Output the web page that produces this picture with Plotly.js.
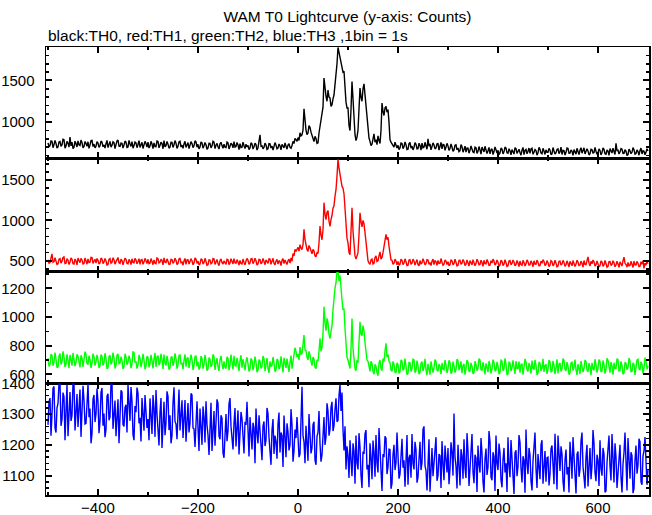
<!DOCTYPE html>
<html>
<head>
<meta charset="utf-8">
<script src="https://cdn.plot.ly/plotly-3.0.1.min.js"></script>
<style>html,body{margin:0;padding:0;background:#fff;}#chart{width:652px;height:515px;}</style>
</head>
<body>
<div id="chart"></div>
<script>
// Time axis: first sample time and sampling step (seconds); one row = 100 s
const T_START = -500;
const BIN_STEP = 2;

// TH0 (black) counts
const th0 = [
752,705,718,776,771,694,731,782,745,690,702,763,768,709,727,795,790,688,715,770,748,701,820,716,761,684,699,772,742,703,775,728,720,786,756,692,708,769,744,711,765,686,724,779,781,707,737,691,712,766,
749,698,716,774,762,705,728,689,741,781,695,752,770,700,722,765,754,683,731,776,786,712,710,748,745,690,727,773,760,696,703,781,739,709,768,688,719,762,751,694,732,778,697,741,758,685,726,770,744,702,
761,690,713,771,738,684,752,708,706,775,769,693,724,760,745,681,779,704,718,768,736,688,701,758,757,697,729,779,748,685,710,763,772,702,725,687,739,771,698,744,755,683,731,766,743,695,716,777,764,700,
734,680,702,763,751,688,718,756,729,674,690,748,746,691,713,770,760,683,724,745,705,678,741,759,719,686,737,699,695,762,752,679,711,748,733,692,766,701,708,757,727,672,742,695,699,761,718,684,735,703,
722,670,689,752,741,678,705,747,731,666,694,760,848,712,716,681,700,749,727,673,683,742,739,690,712,664,697,755,725,680,688,738,718,669,735,700,691,751,709,676,726,742,699,688,721,770,744,805,790,770,
815,780,872,835,848,905,1160,980,905,850,870,960,935,880,842,790,768,830,805,745,752,870,948,1000,1050,1180,1528,1380,1310,1250,1385,1300,1290,1190,1210,1280,1325,1450,1560,1700,1896,1830,1790,1700,1650,1600,1610,1400,1240,1170,
1170,960,900,1150,1488,1280,1010,850,780,820,905,1180,1408,1300,1250,1400,1460,1330,1190,1000,900,810,770,720,735,790,860,760,790,730,835,780,745,900,1228,1130,1080,1170,1190,1120,1150,1000,790,760,740,720,700,760,735,690,
722,670,690,751,745,683,706,762,731,672,675,744,758,689,712,667,699,755,736,680,683,748,720,664,749,693,701,759,714,676,800,711,739,668,707,752,726,679,692,741,744,665,710,757,681,733,729,662,703,746,
716,661,684,738,702,650,667,724,729,669,690,647,658,731,705,640,673,712,641,690,688,628,662,716,679,642,635,700,693,626,650,708,668,618,701,659,644,711,675,623,657,697,620,671,681,612,648,703,669,630,
662,612,631,689,678,620,645,702,690,633,627,681,656,609,671,640,618,694,683,625,649,676,637,604,665,697,610,662,673,621,652,690,626,680,688,615,641,672,659,605,633,699,674,628,620,686,655,613,668,640,
640,685,667,610,621,696,655,618,634,672,679,624,645,700,612,663,660,606,638,690,684,627,629,668,651,603,671,640,617,687,646,611,663,694,628,652,692,619,641,681,655,607,622,675,669,630,637,698,650,614,
628,679,661,607,637,690,674,621,615,666,652,603,683,640,630,688,648,612,745,660,665,618,641,684,676,625,627,670,654,600,611,677,658,622,639,695,670,616,624,668,647,604,662,689,619,657,651,610,638,681,
655];

// TH1 (red) counts
const th1 = [
512,470,478,531,585,480,489,537,503,455,462,520,526,471,495,540,548,466,470,527,507,452,485,534,519,463,458,522,497,449,533,488,476,529,510,460,466,535,502,457,523,476,481,542,539,468,493,519,470,528,
505,459,472,533,519,464,486,528,498,447,455,516,527,469,480,538,511,457,489,526,540,475,468,521,502,450,484,532,517,466,461,518,496,453,524,479,475,530,508,462,490,525,454,509,515,456,483,529,501,465,
518,464,471,527,494,451,509,470,463,534,526,472,482,519,502,448,536,481,476,523,493,455,458,517,514,469,487,531,505,452,468,522,529,476,483,445,497,528,456,511,512,460,489,526,500,450,473,535,521,467,
496,448,462,524,513,457,479,530,490,443,451,511,507,463,474,528,521,454,485,516,466,440,502,522,480,458,498,470,456,519,513,452,472,525,494,461,527,474,469,514,488,446,503,467,460,521,479,450,496,528,
508,455,473,523,526,464,488,532,499,447,461,518,515,460,480,529,492,451,510,476,468,524,521,456,485,530,470,449,497,517,459,502,489,441,506,527,464,510,482,453,499,520,471,535,494,590,560,640,615,650,
665,620,700,655,640,700,889,760,690,640,615,690,660,600,585,640,620,560,548,600,590,720,930,820,760,880,1219,1080,1010,1100,1120,990,925,1010,1060,1150,1180,1300,1380,1550,1756,1650,1560,1490,1420,1400,1330,1150,900,780,
720,600,575,820,1157,870,640,560,520,580,600,820,1095,980,920,1000,960,850,720,580,500,470,455,510,520,460,470,540,560,490,500,560,610,520,540,600,680,760,827,760,790,680,560,510,505,455,470,520,498,450,
491,444,458,519,506,452,472,524,487,440,445,508,513,456,469,521,498,447,480,515,452,438,502,462,474,526,490,449,463,514,509,455,478,440,495,520,451,503,486,443,504,466,467,527,482,446,459,511,497,453,
488,437,452,512,499,448,466,519,481,436,443,505,507,454,471,516,490,441,458,509,475,433,502,460,449,513,484,439,467,518,493,450,455,507,478,431,506,463,461,515,487,442,444,501,472,520,496,447,463,510,
481,432,449,506,493,441,460,512,475,430,438,497,502,451,466,509,484,436,455,503,471,428,496,452,443,505,478,434,462,510,488,445,450,499,473,426,499,458,457,507,481,437,439,496,468,514,491,440,455,502,
476,428,444,501,490,437,457,508,470,425,434,494,497,446,461,505,479,431,450,499,466,423,492,448,438,502,473,429,458,506,483,440,446,495,468,421,503,455,452,500,548,470,436,493,463,509,487,434,451,497,
470,424,440,497,485,431,452,503,466,420,430,489,491,442,456,500,474,426,446,494,461,418,487,445,434,498,545,468,453,422,478,436,441,493,463,417,496,450,448,491,470,427,432,488,458,502,405,470,446,495,
462];

// TH2 (green) counts
const th2 = [
712,655,668,741,731,660,685,752,703,646,652,727,745,668,690,760,721,650,672,739,698,643,735,688,660,749,709,657,684,740,726,664,648,733,715,651,691,758,738,675,670,729,704,645,679,744,722,661,688,736,
701,645,657,738,725,662,682,747,710,638,646,724,733,669,688,751,715,640,664,733,742,675,679,722,697,636,655,743,720,667,686,730,706,642,671,756,752,681,690,639,668,735,713,650,684,742,699,634,660,726,
719,648,674,735,696,641,708,750,651,720,731,664,680,742,703,637,738,676,662,729,690,633,645,718,724,659,686,746,707,640,667,731,735,670,681,635,698,739,653,711,716,644,689,737,702,630,663,725,728,655,
687,633,648,727,710,640,671,735,692,626,637,716,705,652,668,740,721,631,680,712,655,624,699,729,674,636,690,648,640,722,712,629,666,738,685,634,729,662,657,714,679,621,694,733,646,705,670,627,688,719,
673,620,636,711,698,629,659,724,684,615,628,702,692,641,655,728,708,622,667,713,641,610,690,655,660,721,678,618,631,707,697,636,652,725,672,613,715,660,645,709,664,617,681,730,639,690,720,785,760,720,
740,700,790,740,745,800,874,770,765,720,700,760,735,690,660,720,705,650,640,700,690,760,851,760,790,880,1072,960,905,990,960,880,850,900,940,1050,1142,1200,1240,1316,1316,1250,1290,1180,1120,1050,1060,920,800,720,
700,660,640,780,990,780,700,640,625,700,680,820,967,880,870,940,905,820,760,700,690,640,620,690,675,620,600,670,655,610,590,680,700,640,625,710,690,760,816,720,740,690,680,630,620,690,672,615,610,680,
668,606,619,701,692,627,638,710,657,598,605,683,681,620,642,705,700,611,626,695,659,601,614,677,688,624,647,708,633,593,673,640,598,690,661,612,645,703,690,628,622,671,656,600,679,636,631,699,664,609,
640,697,682,604,617,688,659,612,633,706,694,629,651,691,608,660,672,597,639,700,685,618,624,680,655,603,611,692,667,625,643,709,699,631,628,684,650,599,676,640,615,693,662,606,637,702,681,621,629,687,
658,600,614,702,690,626,637,711,669,595,603,684,680,623,646,697,626,602,693,640,640,688,611,669,672,598,649,707,684,632,620,679,657,604,695,641,633,700,662,596,609,686,677,624,642,708,616,661,670,603,
636,699,688,618,621,694,662,601,645,704,606,672,679,620,639,710,697,633,625,685,658,597,612,679,684,627,648,703,631,596,671,640,602,693,664,615,642,700,689,629,617,678,655,594,680,638,628,705,666,611,
644,703,690,617,623,696,667,604,635,712,699,630,612,685,658,598,681,640,640,709,702,622,626,690,663,600,611,684,676,632,649,714,693,618,620,680,668,596,636,701,705,641,628,688,671,605,645,716,690,634,
660];

// TH3 (blue) counts
const th3 = [
1265,1340,1352,1230,1298,1384,1390,1255,1240,1320,1335,1400,1400,1262,1283,1370,1356,1215,1310,1395,1228,1330,1372,1278,1295,1400,1400,1247,1322,1365,1258,1312,1380,1226,1305,1392,1345,1268,1270,1357,1398,1290,1318,1205,1236,1348,1362,1274,1300,1383,
1340,1238,1276,1371,1385,1262,1302,1225,1250,1358,1366,1280,1290,1400,1400,1252,1315,1344,1228,1296,1348,1205,1284,1377,1372,1266,1260,1322,1330,1240,1395,1310,1278,1388,1342,1233,1215,1326,1306,1386,1368,1270,1288,1211,1352,1300,1246,1362,1320,1255,
1284,1215,1351,1270,1235,1362,1320,1226,1378,1300,1262,1198,1305,1352,1190,1280,1340,1231,1272,1374,1358,1248,1296,1205,1230,1335,1387,1276,1268,1218,1322,1380,1247,1294,1345,1222,1285,1346,1210,1309,1336,1240,1270,1367,1362,1255,1252,1193,1300,1342,
1255,1180,1318,1246,1200,1325,1290,1208,1342,1265,1232,1167,1278,1337,1180,1250,1310,1197,1262,1348,1335,1228,1218,1296,1287,1174,1158,1270,1300,1212,1245,1333,1352,1260,1226,1185,1270,1320,1195,1281,1312,1169,1240,1307,1284,1216,1172,1275,1265,1340,
1228,1162,1290,1210,1185,1272,1256,1140,1318,1238,1205,1296,1240,1171,1150,1262,1276,1196,1215,1320,1302,1225,1190,1135,1248,1284,1170,1230,1210,1155,1268,1305,1175,1240,1230,1128,1295,1212,1160,1270,1242,1182,1200,1316,1265,1145,1180,1250,1222,1290,
1235,1160,1170,1285,1389,1230,1210,1140,1262,1205,1148,1300,1228,1172,1190,1266,1275,1150,1135,1228,1240,1310,1205,1145,1168,1248,1290,1200,1225,1335,1310,1230,1250,1322,1340,1245,1262,1315,1351,1275,1280,1360,1395,1310,1370,1250,1182,1260,1120,1195,
1165,1092,1215,1150,1098,1205,1180,1074,1230,1142,1120,1238,1192,1101,1060,1178,1170,1236,1248,1120,1135,1062,1205,1158,1088,1214,1175,1096,1232,1140,1110,1255,1190,1082,1050,1170,1160,1228,1222,1105,1128,1186,1185,1057,1075,1168,1200,1118,1142,1240,
1178,1090,1105,1196,1220,1126,1150,1064,1192,1232,1070,1158,1168,1093,1235,1140,1120,1210,1185,1077,1095,1173,1210,1118,1142,1250,1260,1132,1116,1052,1175,1218,1048,1145,1190,1098,1138,1207,1225,1083,1100,1170,1165,1060,1212,1137,1085,1198,1152,1110,
1190,1072,1122,1208,1175,1100,1302,1160,1130,1058,1200,1143,1068,1186,1165,1090,1218,1125,1092,1238,1180,1066,1140,1195,1235,1112,1075,1168,1158,1047,1198,1136,1110,1222,1172,1080,1045,1155,1188,1102,1128,1245,1210,1095,1085,1176,1162,1050,1230,1140,
1118,1204,1175,1086,1062,1152,1190,1110,1140,1047,1225,1134,1095,1216,1160,1070,1040,1175,1182,1098,1130,1232,1208,1125,1078,1163,1150,1044,1250,1140,1105,1190,1168,1082,1052,1148,1195,1240,1122,1060,1170,1112,1088,1200,1215,1074,1135,1180,1080,1158,
1160,1068,1105,1187,1198,1120,1072,1236,1145,1055,1230,1138,1115,1195,1170,1082,1048,1150,1185,1104,1128,1045,1210,1160,1090,1225,1155,1076,1042,1170,1178,1096,1120,1212,1240,1130,1098,1058,1162,1200,1065,1146,1190,1088,1132,1248,1205,1110,1082,1168,
1150,1066,1215,1122,1100,1190,1170,1046,1050,1142,1188,1230,1130,1084,1235,1156,1078,1205,1160,1060,1112,1185,1200,1095,1045,1138,1175,1240,1125,1052,1222,1118,1090,1176,1165,1043,1058,1150,1198,1106,1135,1220,1210,1080,1070,1164,1180,1225,1140,1070,
1120];

const seriesNames = ['TH0', 'TH1', 'TH2', 'TH3'];
const seriesColors = ['#000000', '#ff0000', '#00ff00', '#0000ff'];
const titleText = 'WAM T0 Lightcurve (y-axis: Counts)';
const subtitleText = 'black:TH0, red:TH1, green:TH2, blue:TH3 ,1bin = 1s';

const allSeries = [th0, th1, th2, th3];
const FONT = 'Liberation Sans, Arial, Helvetica, sans-serif';

const traces = allSeries.map((vals, i) => ({
  x: vals.map((_, k) => T_START + k * BIN_STEP), y: vals,
  type: 'scatter', mode: 'lines', name: seriesNames[i],
  xaxis: i === 0 ? 'x' : 'x' + (i + 1),
  yaxis: i === 0 ? 'y' : 'y' + (i + 1),
  line: { color: seriesColors[i], width: 1.4 },
  hoverinfo: 'x+y'
}));

function baseAxis() {
  return {
    showline: true, linecolor: '#000', linewidth: 1.5, mirror: 'ticks',
    ticks: 'inside', ticklen: 6, tickwidth: 2, tickcolor: '#000',
    showgrid: false, zeroline: false,
    tickfont: { family: FONT, size: 15, color: '#000' }
  };
}

function xAxis(showLabels, anchor) {
  return Object.assign(baseAxis(), {
    range: [-504, 702], tick0: 0, dtick: 200, anchor: anchor,
    showticklabels: showLabels, ticklabelstandoff: -2,
    minor: { ticks: 'inside', ticklen: 3, tickwidth: 1.5, tickcolor: '#000', dtick: 100, tick0: 0, showgrid: false }
  });
}

function yAxis(domain, range, dtick, minorDtick, anchor) {
  return Object.assign(baseAxis(), {
    domain: domain, range: range, tick0: 0, dtick: dtick, anchor: anchor,
    ticklabelstandoff: 7,
    minor: { ticks: 'inside', ticklen: 3, tickwidth: 1.5, tickcolor: '#000', dtick: minorDtick, tick0: 0, showgrid: false }
  });
}

const layout = {
  width: 652, height: 515,
  margin: { l: 46, r: 3, t: 47, b: 20 },
  paper_bgcolor: '#fff', plot_bgcolor: '#fff',
  showlegend: false,
  font: { family: FONT, color: '#000' },
  title: { text: titleText, font: { family: FONT, size: 15.5, color: '#000' },
           x: 0.5, xref: 'paper', xanchor: 'center', y: 1 - 17 / 515, yanchor: 'middle' },
  xaxis: xAxis(false, 'y'),
  xaxis2: xAxis(false, 'y2'),
  xaxis3: xAxis(false, 'y3'),
  xaxis4: xAxis(true, 'y4'),
  yaxis: yAxis([0.7516, 1], [567, 1901], 500, 100, 'x'),
  yaxis2: yAxis([0.4984, 0.7516], [364, 1769], 500, 100, 'x2'),
  yaxis3: yAxis([0.2493, 0.4984], [537, 1316], 200, 100, 'x3'),
  yaxis4: yAxis([0, 0.2493], [1037, 1400], 100, 20, 'x4'),
  annotations: [{
    text: subtitleText, xref: 'paper', yref: 'paper', x: 0, y: (495 - 35.5) / 448,
    xanchor: 'left', yanchor: 'middle', showarrow: false,
    font: { family: FONT, size: 15.5, color: '#000' }
  }]
};

Plotly.newPlot('chart', traces, layout, { displayModeBar: false, staticPlot: true });
</script>
</body>
</html>
